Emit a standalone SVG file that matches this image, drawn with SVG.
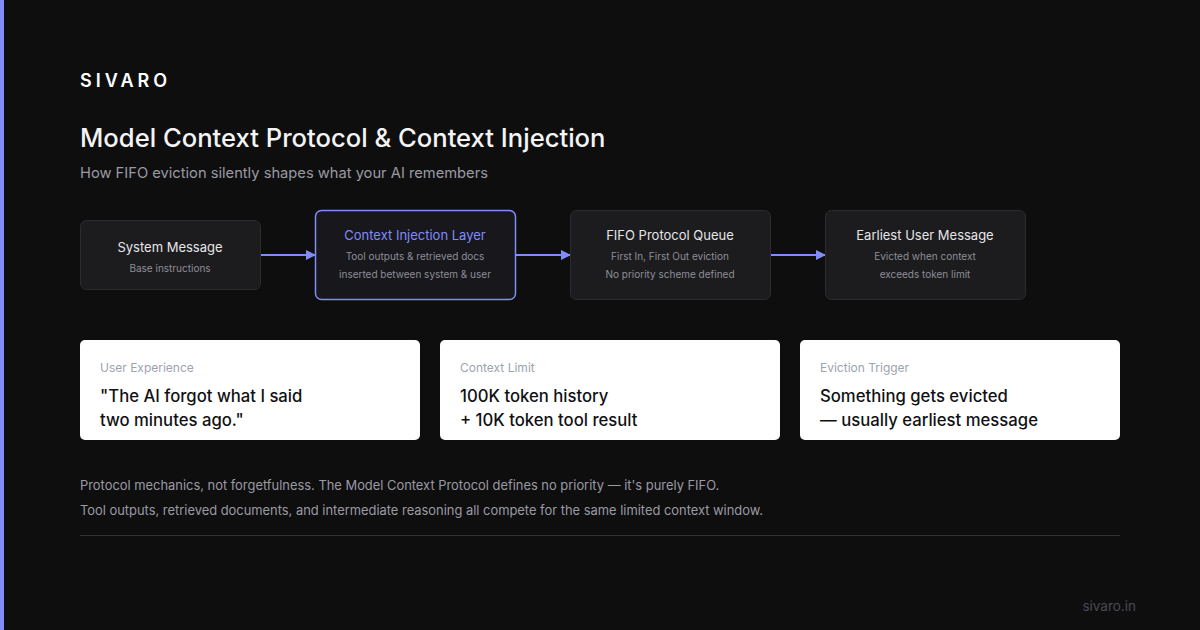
<svg xmlns="http://www.w3.org/2000/svg" width="1200" height="630" viewBox="0 0 1200 630">
<defs>
<style>
text{font-family:Inter,"Noto Sans","Liberation Sans",sans-serif}
.node{fill:#1c1c1f;stroke:#2c2c30;stroke-width:1}
.nt{fill:#e5e5e7;font-size:13px;text-anchor:middle}
.ns{fill:#8e8e96;font-size:10px;text-anchor:middle}
.card{fill:#ffffff}
.cl{fill:#9ca3af;font-size:12px}
.cm{fill:#111114;font-size:16.7px;font-weight:500}
.conn{stroke:#818cf8;stroke-width:2;fill:none}
.foot{fill:#9a9aa2;font-size:12.9px}
</style>
<marker id="ah" viewBox="0 0 10 10" refX="9" refY="5" markerWidth="10" markerHeight="10" markerUnits="userSpaceOnUse" orient="auto">
<path d="M0,0 L10,5 L0,10 Z" fill="#818cf8"/>
</marker>
</defs>
<rect width="1200" height="630" fill="#0e0e0f"/>
<rect x="0" y="0" width="4" height="630" fill="#818cf8"/>
<text x="80" y="87" fill="#ffffff" font-size="18" font-weight="600" letter-spacing="4">SIVARO</text>
<text x="80" y="147" fill="#f4f4f5" font-size="25.6" font-weight="500">Model Context Protocol &amp; Context Injection</text>
<text x="80" y="178" fill="#9a9aa2" font-size="14.7">How FIFO eviction silently shapes what your AI remembers</text>
<g id="connectors">
<line class="conn" x1="260" y1="255" x2="315" y2="255" marker-end="url(#ah)"/>
<line class="conn" x1="515" y1="255" x2="570" y2="255" marker-end="url(#ah)"/>
<line class="conn" x1="770" y1="255" x2="825" y2="255" marker-end="url(#ah)"/>
</g>
<g id="node-system">
<rect class="node" x="80.5" y="220.5" width="180" height="69" rx="6"/>
<text class="nt" x="170" y="252">System Message</text>
<text class="ns" x="170" y="272">Base instructions</text>
</g>
<g id="node-injection">
<rect x="315.5" y="210.5" width="200" height="89" rx="6" fill="#17171c" stroke="#818cf8" stroke-width="1.5"/>
<text class="nt" x="415" y="240" style="fill:#818cf8">Context Injection Layer</text>
<text class="ns" x="415" y="260">Tool outputs &amp; retrieved docs</text>
<text class="ns" x="415" y="278">inserted between system &amp; user</text>
</g>
<g id="node-fifo">
<rect class="node" x="570.5" y="210.5" width="200" height="89" rx="6"/>
<text class="nt" x="670" y="240">FIFO Protocol Queue</text>
<text class="ns" x="670" y="260">First In, First Out eviction</text>
<text class="ns" x="670" y="278">No priority scheme defined</text>
</g>
<g id="node-earliest">
<rect class="node" x="825.5" y="210.5" width="200" height="89" rx="6"/>
<text class="nt" x="925" y="240">Earliest User Message</text>
<text class="ns" x="925" y="260">Evicted when context</text>
<text class="ns" x="925" y="278">exceeds token limit</text>
</g>
<g id="card-ux">
<rect class="card" x="80" y="340" width="340" height="100" rx="5"/>
<text class="cl" x="100" y="372">User Experience</text>
<text class="cm" x="100" y="402">"The AI forgot what I said</text>
<text class="cm" x="100" y="426">two minutes ago."</text>
</g>
<g id="card-limit">
<rect class="card" x="440" y="340" width="340" height="100" rx="5"/>
<text class="cl" x="460" y="372">Context Limit</text>
<text class="cm" x="460" y="402">100K token history</text>
<text class="cm" x="460" y="426">+ 10K token tool result</text>
</g>
<g id="card-trigger">
<rect class="card" x="800" y="340" width="320" height="100" rx="5"/>
<text class="cl" x="820" y="372">Eviction Trigger</text>
<text class="cm" x="820" y="402">Something gets evicted</text>
<text class="cm" x="820" y="426">— usually earliest message</text>
</g>
<text class="foot" x="80" y="490">Protocol mechanics, not forgetfulness. The Model Context Protocol defines no priority — it's purely FIFO.</text>
<text class="foot" x="80" y="515">Tool outputs, retrieved documents, and intermediate reasoning all compete for the same limited context window.</text>
<line x1="80" y1="535.5" x2="1120" y2="535.5" stroke="#333336" stroke-width="1"/>
<text x="1136" y="611" fill="#4a4a50" font-size="13.5" text-anchor="end">sivaro.in</text>
</svg>
